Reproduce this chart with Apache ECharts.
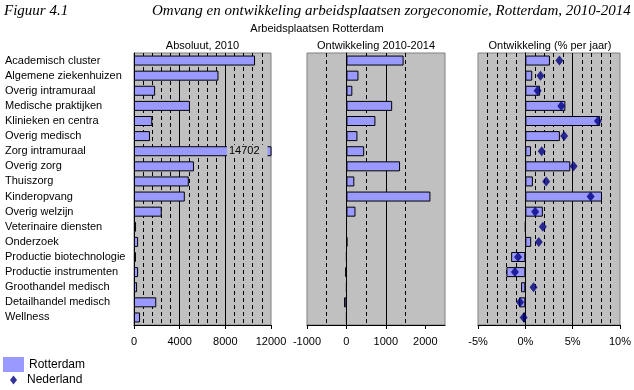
<!DOCTYPE html>
<html>
<head>
<meta charset="utf-8">
<script src="https://cdn.jsdelivr.net/npm/echarts@6/dist/echarts.min.js"></script>
<style>
html,body{margin:0;padding:0;background:#fff;}
#chart{width:634px;height:390px;}
</style>
</head>
<body>
<div id="chart"></div>
<script>
const categories = [
  'Academisch cluster', 'Algemene ziekenhuizen', 'Overig intramuraal', 'Medische praktijken',
  'Klinieken en centra', 'Overig medisch', 'Zorg intramuraal', 'Overig zorg', 'Thuiszorg',
  'Kinderopvang', 'Overig welzijn', 'Veterinaire diensten', 'Onderzoek',
  'Productie biotechnologie', 'Productie instrumenten', 'Groothandel medisch',
  'Detailhandel medisch', 'Wellness'
];
const absolute2010 = [10600, 7400, 1850, 4900, 1600, 1400, 14702, 5250, 4800, 4450, 2430, 180, 360, 170, 360, 270, 1950, 530];
const change20102014 = [1450, 305, 150, 1160, 735, 280, 450, 1360, 200, 2130, 230, 5, 25, 0, -30, 0, -60, 0];
const pctRotterdam = [2.6, 0.73, 1.56, 4.23, 7.9, 3.65, 0.6, 4.75, 0.8, 8.1, 1.85, 0, 0.62, -1.5, -2.0, -0.45, -0.66, -0.24];
const pctNederland = [3.6, 1.6, 1.3, 3.8, 7.67, 4.1, 1.73, 5.1, 2.2, 6.9, 1.04, 1.85, 1.42, -0.77, -1.1, 0.87, -0.56, -0.18];
const panelTitles = ['Absoluut, 2010', 'Ontwikkeling 2010-2014', 'Ontwikkeling (% per jaar)'];
const ticksAbs = [0, 4000, 8000, 12000];
const ticksChange = [-1000, 0, 1000, 2000];
const ticksPct = [-5, 0, 5, 10];

const FONT = 'Arial, "Liberation Sans", sans-serif';
const grids = [
  {left: 134, top: 53, width: 137, height: 272},
  {left: 307, top: 53, width: 138, height: 272},
  {left: 478, top: 53, width: 144, height: 272}
];
const axisDefs = [
  {min: 0, max: 12000, interval: 4000, minor: 5, ticks: ticksAbs, fmt: v => String(v)},
  {min: -1000, max: 2500, interval: 1000, minor: 2, ticks: ticksChange, fmt: v => String(v)},
  {min: -5, max: 10, interval: 5, minor: 5, ticks: ticksPct, fmt: v => v + '%'}
];

const chart = echarts.init(document.getElementById('chart'), null, {renderer: 'canvas'});

const xAxes = axisDefs.map((d, i) => ({
  gridIndex: i, type: 'value', min: d.min, max: d.max, interval: d.interval,
  axisLine: {show: true, onZero: false, lineStyle: {color: '#000', width: 1}},
  axisTick: {show: true, length: 4, customValues: d.ticks, lineStyle: {color: '#000'}},
  axisLabel: {margin: 11, color: '#000', fontSize: 11, fontFamily: FONT, customValues: d.ticks, formatter: d.fmt},
  splitLine: {show: true, showMinLine: false, showMaxLine: false, lineStyle: {color: '#000', width: 1}},
  minorTick: {show: false, splitNumber: d.minor},
  minorSplitLine: {show: true, lineStyle: {color: '#000', width: 1, type: [4, 3]}}
}));

const yAxes = [0, 1, 2].map(i => ({
  gridIndex: i, type: 'category', data: categories, inverse: true,
  axisLine: {show: true, onZero: true, lineStyle: {color: '#000', width: 1}},
  axisTick: {show: false},
  axisLabel: {show: i === 0, align: 'left', margin: 129, color: '#000', fontSize: 11, fontFamily: FONT, interval: 0},
  splitLine: {show: false}
}));

const barStyle = {color: '#9999FF', borderColor: '#000', borderWidth: 1};

const absData = absolute2010.map((v, i) => i === 6 ? {
  value: v,
  label: {show: true, position: 'insideRight', distance: 4, formatter: String(v),
    backgroundColor: '#C0C0C0', padding: [1, 8, 1, 2], color: '#000', fontSize: 11, fontFamily: FONT}
} : v);

const option = {
  animation: false,
  backgroundColor: '#fff',
  grid: grids.map(g => Object.assign({show: true, backgroundColor: '#C0C0C0', borderColor: '#808080', borderWidth: 1}, g)),
  xAxis: xAxes,
  yAxis: yAxes,
  legend: [
    {data: ['Rotterdam'], left: 3, top: 357, icon: 'rect', itemWidth: 21, itemHeight: 15, itemGap: 0,
     selectedMode: false, padding: 0, itemStyle: {borderWidth: 0}, textStyle: {fontSize: 12, fontFamily: FONT, color: '#000'}},
    {data: ['Nederland'], left: 10, top: 374, icon: 'diamond', itemWidth: 7, itemHeight: 9, itemGap: 0,
     selectedMode: false, padding: 0, textStyle: {fontSize: 12, fontFamily: FONT, color: '#000', padding: [0, 0, 0, 5]}}
  ],
  graphic: [
    {type: 'text', x: 4, y: 11, style: {text: 'Figuur 4.1', font: 'italic 15px "Liberation Serif", serif', fill: '#000', textAlign: 'left', textVerticalAlign: 'middle'}},
    {type: 'text', x: 152, y: 11, style: {text: 'Omvang en ontwikkeling arbeidsplaatsen zorgeconomie, Rotterdam, 2010-2014', font: 'italic 15px "Liberation Serif", serif', fill: '#000', textAlign: 'left', textVerticalAlign: 'middle'}},
    {type: 'text', x: 317, y: 29, style: {text: 'Arbeidsplaatsen Rotterdam', font: '11px ' + FONT, fill: '#000', textAlign: 'center', textVerticalAlign: 'middle'}}
  ].concat(grids.map((g, i) => ({
    type: 'text', x: g.left + g.width / 2, y: 46,
    style: {text: panelTitles[i], font: '11px ' + FONT, fill: '#000', textAlign: 'center', textVerticalAlign: 'middle'}
  }))),
  series: [
    {type: 'bar', name: 'Rotterdam', xAxisIndex: 0, yAxisIndex: 0, data: absData, itemStyle: barStyle, barWidth: 10, clip: true},
    {type: 'bar', name: 'Rotterdam', xAxisIndex: 1, yAxisIndex: 1, data: change20102014, itemStyle: barStyle, barWidth: 10, clip: true},
    {type: 'bar', name: 'Rotterdam', xAxisIndex: 2, yAxisIndex: 2, data: pctRotterdam, itemStyle: barStyle, barWidth: 10, clip: true},
    {type: 'scatter', name: 'Nederland', xAxisIndex: 2, yAxisIndex: 2, data: pctNederland.map((v, i) => [v, i]),
     symbol: 'diamond', symbolSize: [8, 10], itemStyle: {color: '#000080'}, z: 5}
  ]
};
chart.setOption(option);
</script>
</body>
</html>
